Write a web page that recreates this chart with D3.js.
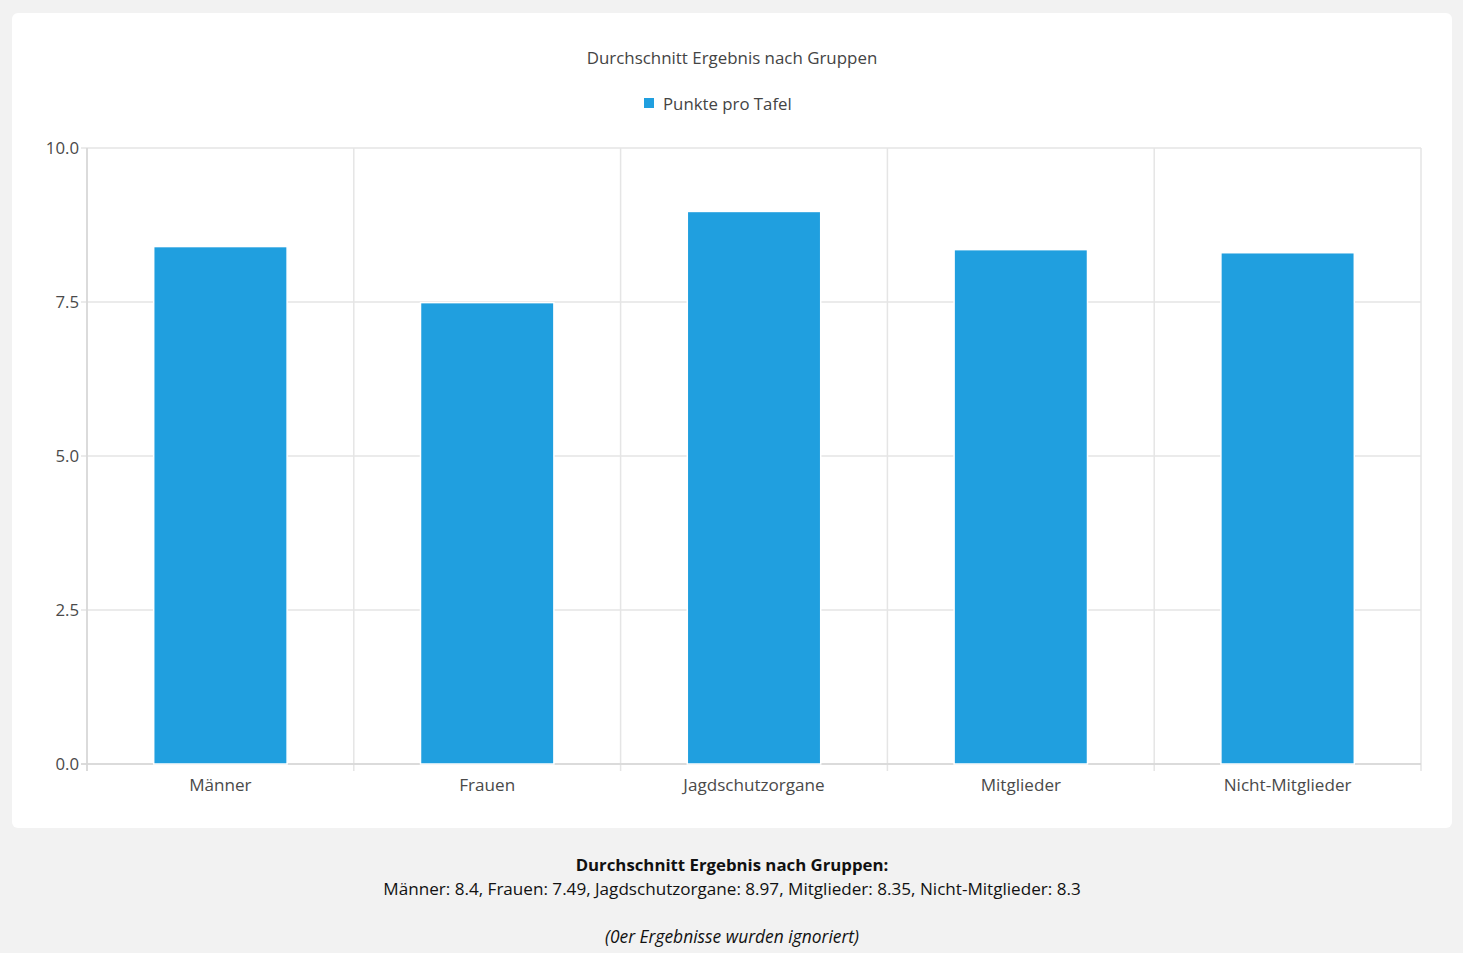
<!DOCTYPE html>
<html>
<head>
<meta charset="utf-8">
<script src="https://cdn.jsdelivr.net/npm/d3@7"></script>
<style>
  body { margin: 0; background: #f2f2f2; font-family: "Open Sans", "Noto Sans", sans-serif; }
  svg { display: block; }
</style>
</head>
<body>
<svg id="chart" width="1463" height="953"></svg>
<script>
// data
const groups = ['Männer', 'Frauen', 'Jagdschutzorgane', 'Mitglieder', 'Nicht-Mitglieder'];
const points = [8.4, 7.49, 8.97, 8.35, 8.3];
const yTicks = [0, 2.5, 5, 7.5, 10];
const chartTitle = 'Durchschnitt Ergebnis nach Gruppen';
const seriesName = 'Punkte pro Tafel';
const noteLine = '(0er Ergebnisse wurden ignoriert)';

const svg = d3.select('#chart');
const margin = {left: 87, right: 1421, top: 148, bottom: 764};

// white card
svg.append('rect')
    .attr('x', 12).attr('y', 13)
    .attr('width', 1440).attr('height', 815)
    .attr('rx', 6)
    .attr('fill', '#fff');

const x = d3.scaleBand()
    .domain(groups)
    .range([margin.left, margin.right]);

const y = d3.scaleLinear()
    .domain([0, 10])
    .range([margin.bottom, margin.top]);

// title and legend
svg.append('text')
    .attr('x', 732).attr('y', 57)
    .attr('text-anchor', 'middle')
    .attr('dominant-baseline', 'central')
    .attr('font-size', 16.9)
    .attr('fill', '#444')
    .text(chartTitle);

const legend = svg.append('g');
legend.append('rect')
    .attr('x', 644).attr('y', 98)
    .attr('width', 10).attr('height', 10)
    .attr('fill', '#209fdf');
legend.append('text')
    .attr('x', 663).attr('y', 103.5)
    .attr('dominant-baseline', 'central')
    .attr('font-size', 16.8)
    .attr('fill', '#444')
    .text(seriesName);

// grid
const grid = svg.append('g');
grid.selectAll('line.h')
    .data(yTicks)
    .enter()
    .append('line')
    .attr('class', 'h')
    .attr('x1', margin.left - 6).attr('x2', margin.right)
    .attr('y1', d => y(d)).attr('y2', d => y(d))
    .attr('stroke', '#e5e5e5')
    .attr('stroke-width', 1.5);

const edges = groups.map(g => x(g)).concat([margin.right]);
grid.selectAll('line.v')
    .data(edges)
    .enter()
    .append('line')
    .attr('class', 'v')
    .attr('x1', d => d).attr('x2', d => d)
    .attr('y1', margin.top).attr('y2', margin.bottom + 7)
    .attr('stroke', '#e5e5e5')
    .attr('stroke-width', 1.5);

// axis lines
svg.append('line')
    .attr('x1', margin.left).attr('x2', margin.left)
    .attr('y1', margin.top).attr('y2', margin.bottom + 7)
    .attr('stroke', '#d6d6d6').attr('stroke-width', 1.5);
svg.append('line')
    .attr('x1', margin.left - 6).attr('x2', margin.right)
    .attr('y1', margin.bottom).attr('y2', margin.bottom)
    .attr('stroke', '#d6d6d6').attr('stroke-width', 1.5);

// bars
const barW = x.bandwidth() * 0.5;
svg.append('g')
    .selectAll('rect')
    .data(groups)
    .enter()
    .append('rect')
    .attr('x', d => x(d) + (x.bandwidth() - barW) / 2)
    .attr('y', (d, i) => y(points[i]))
    .attr('width', barW)
    .attr('height', (d, i) => y(0) - y(points[i]))
    .attr('fill', '#209fdf')
    .attr('stroke', '#fff')
    .attr('stroke-width', 1.5);

// axis labels
const yAxis = d3.axisLeft(y).tickValues(yTicks).tickFormat(d3.format('.1f')).tickSize(0).tickPadding(8);
const ya = svg.append('g').attr('transform', `translate(${margin.left},0)`).call(yAxis);
ya.select('.domain').remove();
ya.selectAll('text').attr('font-size', 16.8).attr('fill', '#4a4a4a').attr('font-family', '"Open Sans", sans-serif');

const xAxis = d3.axisBottom(x).tickSize(0).tickPadding(15);
const xa = svg.append('g').attr('transform', `translate(0,${margin.bottom})`).call(xAxis);
xa.select('.domain').remove();
xa.selectAll('text').attr('font-size', 17.1).attr('fill', '#4a4a4a').attr('font-family', '"Open Sans", sans-serif');

// summary below the card
const summary = groups.map((g, i) => `${g}: ${points[i]}`).join(', ');
svg.append('text')
    .attr('x', 732).attr('y', 864)
    .attr('text-anchor', 'middle')
    .attr('dominant-baseline', 'central')
    .attr('font-size', 16.8)
    .attr('font-weight', 'bold')
    .attr('fill', '#111')
    .text(chartTitle + ':');
svg.append('text')
    .attr('x', 732).attr('y', 888)
    .attr('text-anchor', 'middle')
    .attr('dominant-baseline', 'central')
    .attr('font-size', 17.1)
    .attr('fill', '#111')
    .text(summary);
svg.append('text')
    .attr('x', 732).attr('y', 936)
    .attr('text-anchor', 'middle')
    .attr('dominant-baseline', 'central')
    .attr('font-size', 17.4)
    .attr('font-style', 'italic')
    .attr('fill', '#111')
    .text(noteLine);
</script>
</body>
</html>
